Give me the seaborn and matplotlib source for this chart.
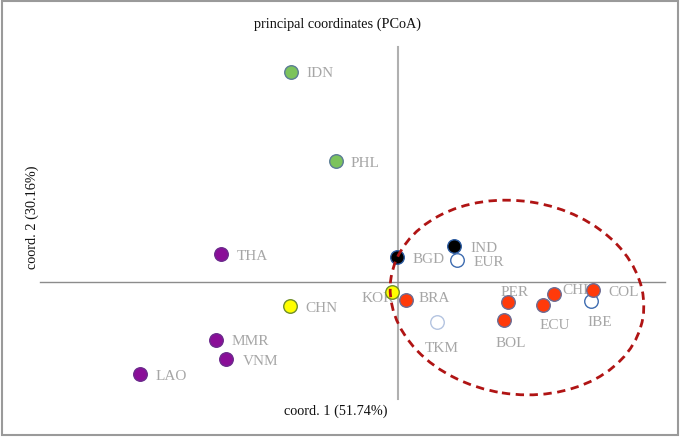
import matplotlib
matplotlib.use("Agg")
import matplotlib.pyplot as plt
from matplotlib.patches import Ellipse, Rectangle
import seaborn as sns
import pandas as pd

# ---- data (PCoA coordinates) ----
names = ["IDN", "PHL", "THA", "CHN", "MMR", "VNM", "LAO", "KOR", "BGD", "IND",
         "EUR", "BRA", "TKM", "PER", "BOL", "ECU", "CHL", "COL", "IBE"]
coord1 = [-0.428, -0.248, -0.708, -0.432, -0.728, -0.688, -1.032, -0.024, -0.004, 0.224,
          0.236, 0.032, 0.156, 0.440, 0.424, 0.580, 0.624, 0.780, 0.772]
coord2 = [0.840, 0.484, 0.112, -0.096, -0.232, -0.308, -0.368, -0.040, 0.100, 0.144,
          0.088, -0.072, -0.160, -0.080, -0.152, -0.092, -0.048, -0.032, -0.076]
groups = ["green", "green", "purple", "yellow", "purple", "purple", "purple", "yellow", "black", "black",
          "open", "red", "open_light", "red", "red", "red", "red", "red", "open"]

title = "principal coordinates (PCoA)"
xlabel = "coord. 1 (51.74%)"
ylabel = "coord. 2 (30.16%)"

df = pd.DataFrame({"name": names, "x": coord1, "y": coord2, "group": groups})

# ---- styles ----
face = {"green": "#7cc35c", "purple": "#8a0e98", "yellow": "#ffff00", "black": "#000000",
        "red": "#ff3a0a", "open": "#ffffff", "open_light": "#ffffff"}
edge = {"green": "#5b7c95", "purple": "#6b2a8c", "yellow": "#6f8f2a", "black": "#2a5aa0",
        "red": "#6c6c94", "open": "#3e6cb0", "open_light": "#b4c4e0"}

# label offsets in pixels (dx, dy screen-down) and alignment
label_pos = {
    "IDN": (15, 0, "left"), "PHL": (15, 1, "left"), "THA": (16, 1, "left"),
    "CHN": (15, 1, "left"), "MMR": (16, 0, "left"), "VNM": (17, 1, "left"),
    "LAO": (16, 1, "left"), "KOR": (2, 5, "right"), "BGD": (16, 1, "left"),
    "IND": (16, 1, "left"), "EUR": (17, 1, "left"), "BRA": (13, -3, "left"),
    "TKM": (5, 25, "center"), "PER": (7, -11, "center"), "BOL": (7, 22, "center"),
    "ECU": (12, 19, "center"), "CHL": (8, -5, "left"), "COL": (15, 1, "left"),
    "IBE": (9, 20, "center"),
}

sns.set_style("white")
plt.rcParams["font.family"] = ["Liberation Serif", "DejaVu Serif"]

W, H = 681, 440
fig = plt.figure(figsize=(W / 100, H / 100), dpi=100)
ax = fig.add_axes([0, 0, 1, 1])
ax.set_facecolor("none")

S = 250.0  # px per unit
ox, oy = 398, 282
ax.set_xlim(-ox / S, (W - ox) / S)
ax.set_ylim((oy - H) / S, oy / S)

for g in df["group"].unique():
    sub = df[df["group"] == g]
    sns.scatterplot(data=sub, x="x", y="y", ax=ax, s=95, color=face[g],
                    edgecolor=edge[g], linewidth=1.0, zorder=4, legend=False)

px2pt = 72 / 100
for n, x, y in zip(df["name"], df["x"], df["y"]):
    dx, dy, ha = label_pos[n]
    ax.annotate(n, (x, y), xytext=(dx * px2pt, -dy * px2pt), textcoords="offset points",
                ha=ha, va="center_baseline", fontsize=11, color="#a6a6a6", zorder=3)

# axis lines through origin
for side in ["top", "right"]:
    ax.spines[side].set_visible(False)
ax.spines["left"].set_position(("data", 0))
ax.spines["bottom"].set_position(("data", 0))
ax.spines["left"].set_bounds((oy - 399) / S, (oy - 47) / S)
ax.spines["bottom"].set_bounds((40 - ox) / S, (665 - ox) / S)
ax.spines["left"].set_color("#b0b0b0")
ax.spines["left"].set_linewidth(1.5)
ax.spines["bottom"].set_color("#8c8c8c")
ax.spines["bottom"].set_linewidth(1.0)
ax.set_xticks([])
ax.set_yticks([])
ax.set_xlabel("")
ax.set_ylabel("")

ell = Ellipse(((517 - ox) / S, (oy - 297.5) / S), 255 / S, 193 / S, angle=-9,
              fill=False, edgecolor="#b01414", linewidth=2.0, linestyle=(0, (3.0, 2.0)),
              zorder=6)
ax.add_patch(ell)

fig.text(338 / W, 1 - 24 / H, title, ha="center", va="center", fontsize=10.3, color="#111111")
fig.text(336 / W, 1 - 411 / H, xlabel, ha="center", va="center", fontsize=10.3, color="#111111")
fig.text(32 / W, 1 - 217 / H, ylabel, ha="center", va="center", rotation=90,
         fontsize=10.3, color="#111111")

fig.patches.append(Rectangle((1.5 / W, (H - 434.5) / H), 676 / W, 433 / H,
                             transform=fig.transFigure, fill=False,
                             edgecolor="#9a9a9a", linewidth=1.5, zorder=10))

fig.savefig("out.png", dpi=100)
